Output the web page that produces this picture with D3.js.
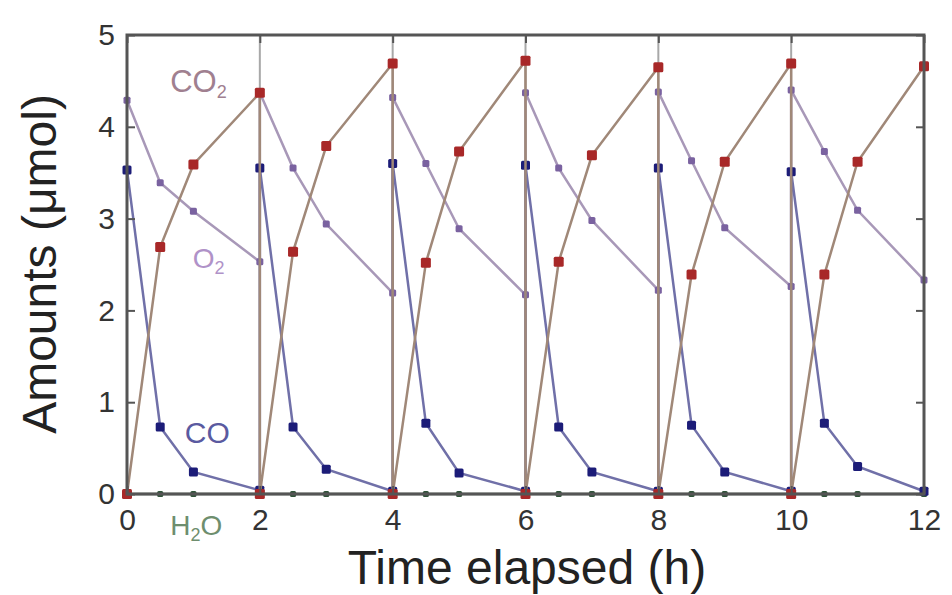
<html>
<meta charset="UTF-8">
<head>
    <title>amounts</title>
    <style>
        body { margin: 0; background: #fff; }
        text { font-family: "Liberation Sans", Arial, sans-serif; }
    </style>
</head>
<body>
<script src="https://d3js.org/d3.v7.min.js"></script>
<script>
    // time points (h), repeated where a cycle restarts
    let times = [0, 0.5, 1, 2, 2, 2.5, 3, 4, 4, 4.5, 5, 6, 6, 6.5, 7, 8, 8, 8.5, 9, 10, 10, 10.5, 11, 12]

    let co2 = [0, 2.69, 3.59, 4.37, 0, 2.64, 3.79, 4.69, 0, 2.52, 3.73, 4.72, 0, 2.53, 3.69, 4.65, 0, 2.39, 3.62, 4.69, 0, 2.39, 3.62, 4.66]
    let o2 = [4.29, 3.39, 3.08, 2.53, 4.37, 3.55, 2.94, 2.19, 4.32, 3.6, 2.89, 2.17, 4.37, 3.55, 2.98, 2.22, 4.38, 3.63, 2.9, 2.26, 4.4, 3.73, 3.09, 2.33]
    let co = [3.53, 0.73, 0.24, 0.04, 3.55, 0.73, 0.27, 0.03, 3.6, 0.77, 0.23, 0.03, 3.58, 0.73, 0.24, 0.03, 3.55, 0.75, 0.24, 0.03, 3.51, 0.77, 0.3, 0.03]
    let h2o = [0, 0, 0, 0, 0, 0, 0, 0, 0, 0, 0, 0, 0, 0, 0, 0, 0, 0, 0, 0, 0, 0, 0, 0]

    let x_ticks = [0, 2, 4, 6, 8, 10, 12]
    let y_ticks = [0, 1, 2, 3, 4, 5]

    let series = [
        {name: "H2O", values: h2o, line: "#5a725e", mark: "#2f5238", size: 6},
        {name: "O2", values: o2, line: "#a898b8", mark: "#7a62a0", size: 7},
        {name: "CO", values: co, line: "#7070a8", mark: "#1c1c78", size: 9},
        {name: "CO2", values: co2, line: "#a08878", mark: "#a82828", size: 10}
    ]

    let width = 952, height = 595
    let m_left = 127, m_right = 924, m_top = 35, m_bottom = 494

    let x = d3.scaleLinear().domain([0, 12]).range([m_left, m_right])
    let y = d3.scaleLinear().domain([0, 5]).range([m_bottom, m_top])

    let svg = d3.select("body").append("svg")
        .attr("width", width)
        .attr("height", height)

    // vertical grid at cycle boundaries
    svg.append("g").selectAll("line")
        .data(x_ticks.slice(1, -1)).enter()
        .append("line")
        .attr("x1", d => x(d)).attr("x2", d => x(d))
        .attr("y1", m_top).attr("y2", m_bottom)
        .attr("stroke", "#a8a8a8")
        .attr("stroke-width", 2)

    // series
    let line = d3.line()
        .x(d => x(d[0]))
        .y(d => y(d[1]))

    series.forEach(s => {
        let pts = times.map((t, i) => [t, s.values[i]])
        svg.append("path")
            .datum(pts)
            .attr("d", line)
            .attr("fill", "none")
            .attr("stroke", s.line)
            .attr("stroke-width", 2.5)
        svg.append("g").selectAll("rect")
            .data(pts).enter()
            .append("rect")
            .attr("x", d => x(d[0]) - s.size / 2)
            .attr("y", d => y(d[1]) - s.size / 2)
            .attr("width", s.size)
            .attr("height", s.size)
            .attr("rx", 1.5)
            .attr("fill", s.mark)
    })

    // frame
    svg.append("rect")
        .attr("x", m_left).attr("y", m_top)
        .attr("width", m_right - m_left).attr("height", m_bottom - m_top)
        .attr("fill", "none")
        .attr("stroke", "#555")
        .attr("stroke-width", 3)

    // axes, ticks inward
    let xAxis = d3.axisBottom(x).tickValues(x_ticks).tickSize(-8).tickPadding(15).tickFormat(d3.format("d"))
    let yAxis = d3.axisLeft(y).tickValues(y_ticks).tickSize(-8).tickPadding(12).tickFormat(d3.format("d"))

    svg.append("g").attr("transform", "translate(0," + m_bottom + ")").call(xAxis)
    svg.append("g").attr("transform", "translate(" + m_left + ",0)").call(yAxis)
    svg.append("g").attr("transform", "translate(" + m_right + ",0)")
        .call(d3.axisRight(y).tickValues(y_ticks).tickSize(-8).tickFormat(""))
    svg.append("g").attr("transform", "translate(0," + m_top + ")")
        .call(d3.axisTop(x).tickValues(x_ticks).tickSize(-8).tickFormat(""))

    svg.selectAll(".domain").remove()
    svg.selectAll(".tick line").attr("stroke", "#555").attr("stroke-width", 2)
    svg.selectAll(".tick text")
        .attr("font-size", 30)
        .attr("fill", "#333")
        .style("font-family", "'Liberation Sans', Arial, sans-serif")

    // series labels
    let labels = [
        {text: "CO", sub: "2", xv: 0.65, yv: 4.38, size: 31, color: "#a08090"},
        {text: "O", sub: "2", xv: 0.99, yv: 2.46, size: 28, color: "#b092c8"},
        {text: "CO", sub: "", xv: 0.87, yv: 0.56, size: 30, color: "#5a5aa0"},
        {text: "H", sub: "2", xv: 0.65, yv: -0.45, size: 28, color: "#6e8e6e", tail: "O"}
    ]
    labels.forEach(l => {
        let t = svg.append("text")
            .attr("x", x(l.xv))
            .attr("y", y(l.yv))
            .attr("font-size", l.size)
            .attr("fill", l.color)
        t.append("tspan").text(l.text)
        if (l.sub) t.append("tspan").attr("font-size", 18).attr("dy", 6).text(l.sub)
        if (l.tail) t.append("tspan").attr("dy", -6).attr("font-size", l.size).text(l.tail)
    })

    // axis titles
    svg.append("text")
        .attr("x", 527).attr("y", 584)
        .attr("text-anchor", "middle")
        .attr("font-size", 48)
        .attr("fill", "#222")
        .text("Time elapsed (h)")

    svg.append("text")
        .attr("transform", "translate(56,264) rotate(-90)")
        .attr("text-anchor", "middle")
        .attr("font-size", 48)
        .attr("fill", "#222")
        .text("Amounts (\u03bcmol)")
</script>
</body>
</html>
